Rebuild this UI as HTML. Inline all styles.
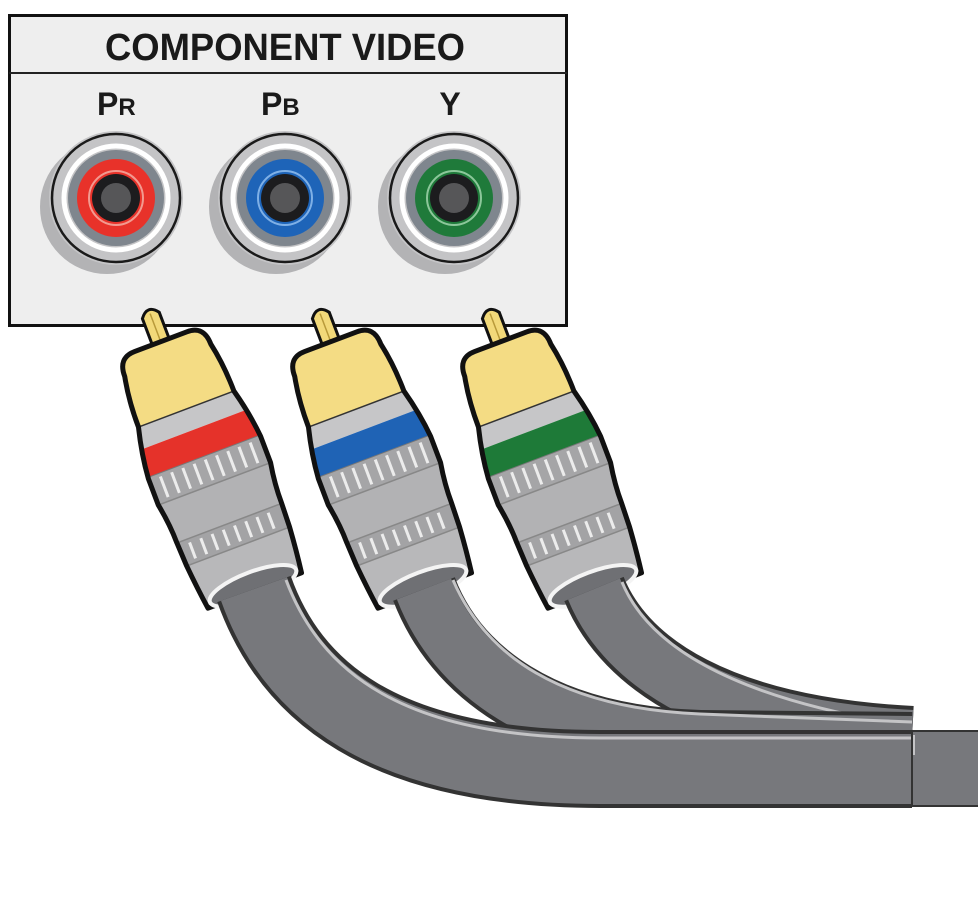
<!DOCTYPE html>
<html><head><meta charset="utf-8"><style>html,body{margin:0;padding:0;background:#fff}svg{display:block}</style></head>
<body>
<svg width="978" height="907" viewBox="0 0 978 907" xmlns="http://www.w3.org/2000/svg">
<defs>
<clipPath id="pc"><path d="M-46 56 Q-46 36 -28 36 L28 36 Q46 36 46 56 Q51 80 51 108 Q58 135 60 160 L60 188 Q56 210 56 230 L55 255 Q53 280 50 302 L-50 302 Q-53 280 -55 255 L-56 230 Q-56 210 -60 188 L-60 160 Q-58 135 -51 108 Q-51 80 -46 56 Z"/></clipPath>
<g id="jack">
  <circle cx="-9" cy="9" r="67" fill="#b3b3b5"/>
  <circle cx="0" cy="0" r="67" fill="#c4c4c6"/>
  <circle cx="0" cy="0" r="64" fill="none" stroke="#1a1a1a" stroke-width="2.5"/>
  <circle cx="0" cy="0" r="52" fill="none" stroke="#ffffff" stroke-width="5"/>
  <circle cx="0" cy="0" r="48" fill="#7f868e"/>
</g>
<g id="jackin">
  <circle cx="0" cy="0" r="24" fill="#1c1c1e"/>
  <circle cx="0" cy="0" r="15" fill="#565658"/>
</g>
<g id="plugbody">
  <path d="M-9 50 L-9 8 Q0 -4 9 8 L9 50 Z" fill="#f2d97a" stroke="#111" stroke-width="3"/>
  <line x1="0" y1="6" x2="0" y2="44" stroke="#b89a3a" stroke-width="1.5"/>
  <g clip-path="url(#pc)">
    <rect x="-70" y="30" width="140" height="80" fill="#f4dc84"/>
    <rect x="-70" y="108" width="140" height="22" fill="#c6c6c8"/>
    <rect x="-70" y="158" width="140" height="30" fill="#a5a5a7"/>
    <rect x="-70" y="188" width="140" height="42" fill="#b2b2b4"/>
    <rect x="-70" y="230" width="140" height="25" fill="#a3a3a5"/>
    <rect x="-70" y="255" width="140" height="50" fill="#b8b8ba"/>
    <line x1="-70" y1="158" x2="70" y2="158" stroke="#777" stroke-width="2"/>
    <line x1="-70" y1="188" x2="70" y2="188" stroke="#888" stroke-width="1.5"/>
    <line x1="-70" y1="230" x2="70" y2="230" stroke="#888" stroke-width="1.5"/>
    <line x1="-70" y1="255" x2="70" y2="255" stroke="#888" stroke-width="1.5"/>
    <g stroke="#ececec" stroke-width="3">
      <line x1="-48" y1="162" x2="-48" y2="184"/><line x1="-36" y1="162" x2="-36" y2="184"/><line x1="-24" y1="162" x2="-24" y2="184"/><line x1="-12" y1="162" x2="-12" y2="184"/><line x1="0" y1="162" x2="0" y2="184"/><line x1="12" y1="162" x2="12" y2="184"/><line x1="24" y1="162" x2="24" y2="184"/><line x1="36" y1="162" x2="36" y2="184"/><line x1="48" y1="162" x2="48" y2="184"/>
      <line x1="-44" y1="234" x2="-44" y2="251"/><line x1="-32" y1="234" x2="-32" y2="251"/><line x1="-20" y1="234" x2="-20" y2="251"/><line x1="-8" y1="234" x2="-8" y2="251"/><line x1="4" y1="234" x2="4" y2="251"/><line x1="16" y1="234" x2="16" y2="251"/><line x1="28" y1="234" x2="28" y2="251"/><line x1="40" y1="234" x2="40" y2="251"/>
    </g>
  </g>
  <line x1="-52" y1="108" x2="52" y2="108" stroke="#333" stroke-width="1.5"/>
</g>
<g id="plugout">
  <path d="M-46 56 Q-46 36 -28 36 L28 36 Q46 36 46 56 Q51 80 51 108 Q58 135 60 160 L60 188 Q56 210 56 230 L55 255 Q53 280 50 302 L-50 302 Q-53 280 -55 255 L-56 230 Q-56 210 -60 188 L-60 160 Q-58 135 -51 108 Q-51 80 -46 56 Z" fill="none" stroke="#111" stroke-width="5" stroke-linejoin="round"/>
  <ellipse cx="0" cy="297" rx="46" ry="14" fill="#6f7074" stroke="#f4f4f4" stroke-width="4"/>
</g>
</defs>

<rect x="9.5" y="15.5" width="557" height="310" fill="#eeeeee" stroke="#111" stroke-width="3"/>
<line x1="9" y1="73" x2="567" y2="73" stroke="#222" stroke-width="2"/>
<text x="285" y="60" text-anchor="middle" font-family="Liberation Sans, sans-serif" font-weight="bold" font-size="38" fill="#1a1a1a" textLength="360" lengthAdjust="spacingAndGlyphs">COMPONENT VIDEO</text>
<text x="97" y="115" font-family="Liberation Sans, sans-serif" font-weight="bold" font-size="32" fill="#1a1a1a">P<tspan font-size="24">R</tspan></text>
<text x="261" y="115" font-family="Liberation Sans, sans-serif" font-weight="bold" font-size="32" fill="#1a1a1a">P<tspan font-size="24">B</tspan></text>
<text x="450" y="115" text-anchor="middle" font-family="Liberation Sans, sans-serif" font-weight="bold" font-size="32" fill="#1a1a1a">Y</text>

<g transform="translate(116,198)"><use href="#jack"/><circle r="39" fill="#e8322a"/><circle r="27" fill="none" stroke="#f29a90" stroke-width="2"/><use href="#jackin"/></g>
<g transform="translate(285,198)"><use href="#jack"/><circle r="39" fill="#1e64b8"/><circle r="27" fill="none" stroke="#7fb0e6" stroke-width="2"/><use href="#jackin"/></g>
<g transform="translate(454,198)"><use href="#jack"/><circle r="39" fill="#1f7a3a"/><circle r="27" fill="none" stroke="#8cc79a" stroke-width="2"/><use href="#jackin"/></g>

<g transform="translate(148,308) rotate(-20.7)"><use href="#plugbody"/><rect x="-60" y="130" width="120" height="28" fill="#e5322a" clip-path="url(#pc)"/><use href="#plugout"/></g>
<g transform="translate(318,308) rotate(-20.7)"><use href="#plugbody"/><rect x="-60" y="130" width="120" height="28" fill="#1f63b5" clip-path="url(#pc)"/><use href="#plugout"/></g>
<g transform="translate(488,308) rotate(-20.7)"><use href="#plugbody"/><rect x="-60" y="130" width="120" height="28" fill="#1e7a38" clip-path="url(#pc)"/><use href="#plugout"/></g>

<g fill="none" stroke-linecap="butt">
  <path d="M594 589 C 625 665, 720 728, 912 738" stroke="#333" stroke-width="64"/>
  <path d="M594 589 C 625 665, 720 728, 912 738" stroke="#77787c" stroke-width="56"/>
  <path d="M622 582 C 650 650, 740 700, 912 726" stroke="#c4c4c6" stroke-width="3"/>
  <path d="M424 589 C 455 670, 540 738, 700 743 L 912 745" stroke="#333" stroke-width="66"/>
  <path d="M424 589 C 455 670, 540 738, 700 743 L 912 745" stroke="#77787c" stroke-width="58"/>
  <path d="M453 580 C 485 655, 560 708, 700 714 L 912 722" stroke="#c4c4c6" stroke-width="3"/>
  <path d="M254 589 C 290 690, 380 769, 600 769 L 912 769" stroke="#333" stroke-width="78"/>
  <path d="M254 589 C 290 690, 380 769, 600 769 L 912 769" stroke="#77787c" stroke-width="70"/>
  <path d="M286 580 C 320 670, 400 738, 600 738 L 912 738" stroke="#c4c4c6" stroke-width="3"/>
</g>
<rect x="912" y="731" width="70" height="75" fill="#77787c" stroke="#333" stroke-width="2"/>
<line x1="914" y1="735" x2="914" y2="755" stroke="#c4c4c6" stroke-width="2"/>
</svg>
</body></html>
